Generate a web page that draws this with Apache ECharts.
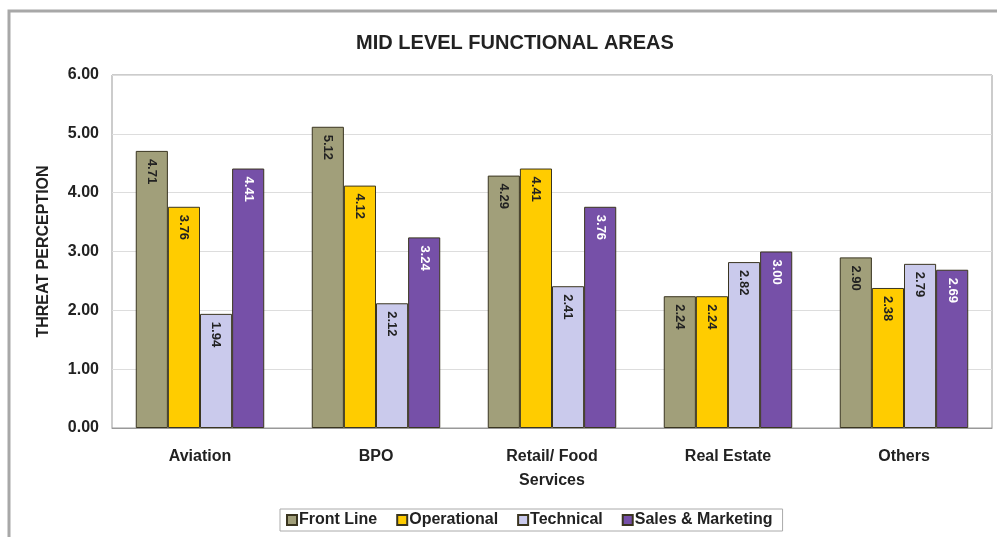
<!DOCTYPE html>
<html>
<head>
<meta charset="utf-8">
<script src="https://cdn.jsdelivr.net/npm/echarts@6/dist/echarts.min.js"></script>
<style>
  html, body { margin: 0; padding: 0; background: #fff; }
  #chart { width: 997px; height: 537px; }
</style>
</head>
<body>
<div id="chart"></div>
<script>
// Functional areas and threat perception scores per staff group
const categories = ['Aviation', 'BPO', 'Retail/ Food\nServices', 'Real Estate', 'Others'];
const frontLine = [4.71, 5.12, 4.29, 2.24, 2.90];
const operational = [3.76, 4.12, 4.41, 2.24, 2.38];
const technical = [1.94, 2.12, 2.41, 2.82, 2.79];
const salesMarketing = [4.41, 3.24, 3.76, 3.00, 2.69];
const seriesNames = ['Front Line', 'Operational', 'Technical', 'Sales & Marketing'];

const FONT = '"Liberation Sans", Arial, sans-serif';

function barSeries(name, data, color, labelColor) {
  return {
    name: name,
    type: 'bar',
    data: data,
    barGap: '0%',
    barCategoryGap: '27%',
    itemStyle: { color: color, borderColor: '#3a3520', borderWidth: 1 },
    label: {
      show: true,
      position: 'insideTop',
      rotate: -90,
      align: 'left',
      verticalAlign: 'middle',
      distance: 8,
      formatter: p => p.value.toFixed(2),
      color: labelColor,
      fontFamily: FONT,
      fontWeight: 'bold',
      fontSize: 13
    }
  };
}

const chart = echarts.init(document.getElementById('chart'));
chart.setOption({
  animation: false,
  backgroundColor: '#fff',
  title: {
    text: 'MID LEVEL FUNCTIONAL AREAS',
    left: 510,
    textAlign: 'center',
    top: 28,
    textStyle: { fontFamily: FONT, fontWeight: 'bold', fontSize: 20, color: '#222' }
  },
  graphic: [{
    type: 'rect',
    shape: { x: 9, y: 11, width: 1000, height: 540 },
    style: { fill: 'none', stroke: '#a8a8a8', lineWidth: 3 },
    silent: true,
    z: -1
  }],
  legend: {
    data: seriesNames,
    icon: 'rect',
    left: 280,
    top: 509,
    itemWidth: 10,
    itemHeight: 10,
    itemGap: 19,
    padding: [3, 10, 3, 6],
    borderColor: '#aaa',
    borderWidth: 1,
    textStyle: { fontFamily: FONT, fontWeight: 'bold', fontSize: 16, color: '#222', padding: [0, 0, 0, -3] }
  },
  grid: { left: 112, right: 5, top: 75, bottom: 109, show: true, borderColor: '#999', borderWidth: 1 },
  xAxis: {
    type: 'category',
    data: categories,
    axisTick: { show: false },
    axisLine: { lineStyle: { color: '#999' } },
    axisLabel: { fontFamily: FONT, fontWeight: 'bold', fontSize: 16, color: '#222', margin: 17, lineHeight: 24 }
  },
  yAxis: {
    type: 'value',
    min: 0,
    max: 6,
    interval: 1,
    name: 'THREAT PERCEPTION',
    nameLocation: 'middle',
    nameGap: 60,
    nameTextStyle: { fontFamily: FONT, fontWeight: 'bold', fontSize: 16, color: '#222' },
    axisLine: { show: false },
    axisTick: { show: false },
    splitLine: { lineStyle: { color: '#ddd' } },
    axisLabel: { formatter: v => v.toFixed(2), fontFamily: FONT, fontWeight: 'bold', fontSize: 16, color: '#222', margin: 13 }
  },
  series: [
    barSeries(seriesNames[0], frontLine, '#a19f7a', '#222'),
    barSeries(seriesNames[1], operational, '#ffcc00', '#222'),
    barSeries(seriesNames[2], technical, '#cacaec', '#222'),
    barSeries(seriesNames[3], salesMarketing, '#7650a8', '#fff')
  ]
});
</script>
</body>
</html>
